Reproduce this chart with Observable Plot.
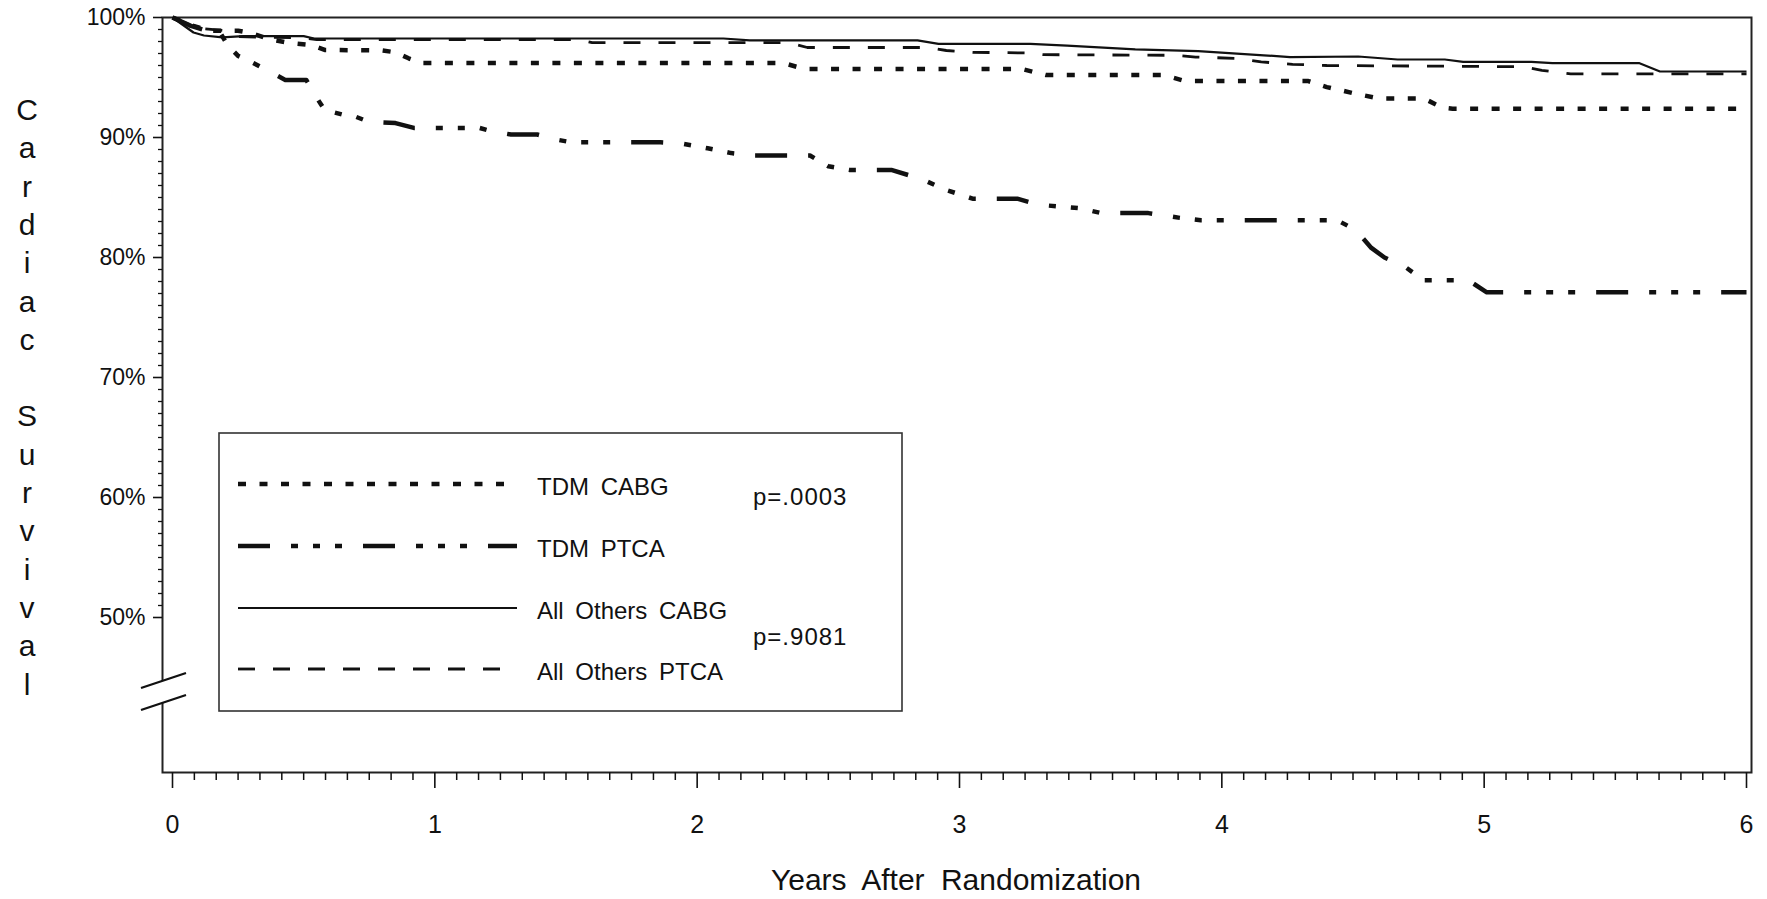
<!DOCTYPE html>
<html><head><meta charset="utf-8">
<script src="https://cdn.jsdelivr.net/npm/d3@7"></script>
<script src="https://cdn.jsdelivr.net/npm/@observablehq/plot@0.6"></script>
<style>
html,body{margin:0;padding:0;background:#fff;}
svg text{font-family:"Liberation Sans",Arial,Helvetica,sans-serif;}
</style></head><body><div id="chart"></div>
<script>
// ---- data (years after randomization, cardiac survival %) ----
const seriesNames = ["TDM CABG", "TDM PTCA", "All Others CABG", "All Others PTCA"];
const pValues = ["p=.0003", "p=.9081"];
const tdmCabg = [[0,100],[0.08,99.3],[0.14,98.9],[0.25,98.9],[0.3,98.7],[0.37,98.2],[0.44,97.9],[0.53,97.7],[0.58,97.3],[0.8,97.25],[0.85,97.1],[0.9,96.6],[0.95,96.2],[2.33,96.2],[2.41,95.7],[3.24,95.7],[3.33,95.2],[3.78,95.2],[3.86,94.7],[4.33,94.7],[4.4,94.2],[4.5,93.7],[4.6,93.25],[4.77,93.25],[4.84,92.5],[4.88,92.4],[6.0,92.4]];
const tdmPtca = [[0,100],[0.07,99.3],[0.13,98.9],[0.18,98.8],[0.21,97.7],[0.25,96.8],[0.3,96.3],[0.37,95.5],[0.43,94.8],[0.51,94.8],[0.55,93.3],[0.58,92.3],[0.65,91.9],[0.69,91.8],[0.75,91.3],[0.85,91.2],[0.92,90.8],[1.17,90.8],[1.22,90.5],[1.29,90.25],[1.39,90.25],[1.47,89.8],[1.52,89.6],[1.86,89.6],[1.94,89.5],[2.04,89.1],[2.13,88.7],[2.22,88.5],[2.43,88.5],[2.5,87.6],[2.58,87.3],[2.74,87.3],[2.86,86.5],[2.94,85.7],[3.05,84.9],[3.22,84.9],[3.3,84.4],[3.46,84.1],[3.54,83.7],[3.72,83.7],[3.84,83.3],[3.92,83.1],[4.44,83.1],[4.51,82.3],[4.57,80.8],[4.62,80.0],[4.7,79.2],[4.77,78.1],[4.94,78.1],[5.01,77.1],[6.0,77.1]];
const othersCabg = [[0,100],[0.08,98.75],[0.12,98.5],[0.19,98.35],[0.27,98.45],[0.5,98.45],[0.54,98.25],[2.1,98.25],[2.2,98.1],[2.84,98.1],[2.92,97.8],[3.27,97.8],[3.41,97.65],[3.67,97.35],[3.91,97.2],[4.16,96.85],[4.26,96.7],[4.52,96.75],[4.67,96.5],[4.85,96.5],[4.92,96.3],[5.18,96.3],[5.26,96.2],[5.59,96.2],[5.67,95.5],[6.0,95.5]];
const othersPtca = [[0,100],[0.1,99.1],[0.2,98.9],[0.25,98.4],[0.5,98.3],[0.55,98.15],[1.55,98.15],[1.6,97.9],[2.35,97.9],[2.42,97.5],[2.88,97.5],[2.95,97.25],[3.05,97.1],[3.25,97.05],[3.32,96.9],[3.82,96.85],[3.9,96.7],[4.05,96.6],[4.15,96.3],[4.27,96.1],[4.4,96.0],[5.15,95.9],[5.22,95.6],[5.33,95.3],[6.0,95.3]];
const xMajorTicks = [0,1,2,3,4,5,6];
const xMinorTicks = d3.range(1,72).filter(m => m % 12 !== 0).map(m => m / 12);
const yMajorTicks = [50,60,70,80,90,100];
const yMinorTicks = d3.range(51,100).filter(v => v % 10 !== 0);
const xTitle = "Years After Randomization";
const yTitle = "Cardiac Survival";
const breakValue = 43.75;

// ---- styles ----
const ink = "#111";
const seriesData = [tdmCabg, tdmPtca, othersCabg, othersPtca];
const seriesStyle = [
  {dash: "8,13.5", width: 4.5},
  {dash: "32,21,7,15,7,15,7,21", width: 4.5},
  {dash: null, width: 2.2},
  {dash: "17,18", width: 2.8}
];
const drawOrder = [2, 3, 0, 1];

const W = 1767, H = 899;
const mL = 162, mR = 16, mT = 17, mB = 127;
const pxPerYear = 262.33, pxPerPct = 12.0;
const xDomain = [-(172 - mL) / pxPerYear, 6 + (W - mR - 1746) / pxPerYear];
const yDomain = [100 - (H - mB - mT) / pxPerPct, 100];

const fmt = d => d + "%";
const plot = Plot.plot({
  width: W, height: H,
  marginLeft: mL, marginRight: mR, marginTop: mT, marginBottom: mB,
  style: {background: "#fff", color: ink, fontFamily: "Liberation Sans, Arial, sans-serif"},
  x: {domain: xDomain},
  y: {domain: yDomain},
  marks: [
    Plot.frame({stroke: "#222", strokeWidth: 2}),
    Plot.axisX({ticks: xMinorTicks, tickSize: 8, tickFormat: () => "", label: null, strokeWidth: 1.5}),
    Plot.axisX({ticks: xMajorTicks, tickSize: 16, tickPadding: 27, tickFormat: d => String(d), label: null, fontSize: 25, strokeWidth: 1.6}),
    Plot.axisY({ticks: yMinorTicks, tickSize: 4, tickFormat: () => "", label: null, strokeWidth: 1.3}),
    Plot.axisY({ticks: yMajorTicks, tickSize: 9, tickPadding: 8, tickFormat: fmt, label: null, fontSize: 23, strokeWidth: 1.6}),
    ...drawOrder.map(i => Plot.line(seriesData[i], {
      x: d => d[0], y: d => d[1], stroke: ink,
      strokeWidth: seriesStyle[i].width,
      strokeDasharray: seriesStyle[i].dash,
      strokeLinecap: "butt", strokeLinejoin: "round"
    }))
  ]
});
document.getElementById("chart").appendChild(plot);

const svg = d3.select(plot);
const sx = plot.scale("x"), sy = plot.scale("y");
const x0 = sx.apply(xDomain[0]);
const yb = sy.apply(breakValue);

// axis break
const brk = svg.append("g");
brk.append("rect").attr("x", x0 - 4).attr("y", yb - 11).attr("width", 8).attr("height", 22).attr("fill", "#fff");
[-11, 11].forEach(o => {
  brk.append("line").attr("x1", x0 - 21).attr("y1", yb + o + 7).attr("x2", x0 + 24).attr("y2", yb + o - 8)
    .attr("stroke", ink).attr("stroke-width", 2.2);
});

// y title (stacked letters)
const yt = svg.append("g").attr("fill", ink).attr("font-size", 30).attr("text-anchor", "middle");
yTitle.split("").forEach((ch, i) => {
  if (ch !== " ") yt.append("text").attr("x", 27).attr("y", 120 + 38.3 * i).text(ch);
});

// x title
svg.append("text").attr("x", 956).attr("y", 890).attr("text-anchor", "middle")
  .attr("font-size", 30).attr("word-spacing", 8).attr("fill", ink).text(xTitle);

// legend
const lg = svg.append("g").attr("text-anchor", "start");
lg.append("rect").attr("x", 219).attr("y", 433).attr("width", 683).attr("height", 278)
  .attr("fill", "#fff").attr("stroke", "#333").attr("stroke-width", 1.6);
const rowY = [484, 546, 608, 669];
seriesNames.forEach((name, i) => {
  lg.append("line").attr("x1", 238).attr("x2", 517).attr("y1", rowY[i]).attr("y2", rowY[i])
    .attr("stroke", ink).attr("stroke-width", seriesStyle[i].width)
    .attr("stroke-dasharray", seriesStyle[i].dash);
  lg.append("text").attr("x", 537).attr("y", rowY[i] + 11).attr("font-size", 24)
    .attr("word-spacing", 5).attr("fill", ink).attr("text-anchor", "start").text(name);
});
const pY = [505, 645];
pValues.forEach((p, i) => {
  lg.append("text").attr("x", 753).attr("y", pY[i]).attr("font-size", 24)
    .attr("letter-spacing", 1).attr("fill", ink).attr("text-anchor", "start").text(p);
});
</script></body></html>
